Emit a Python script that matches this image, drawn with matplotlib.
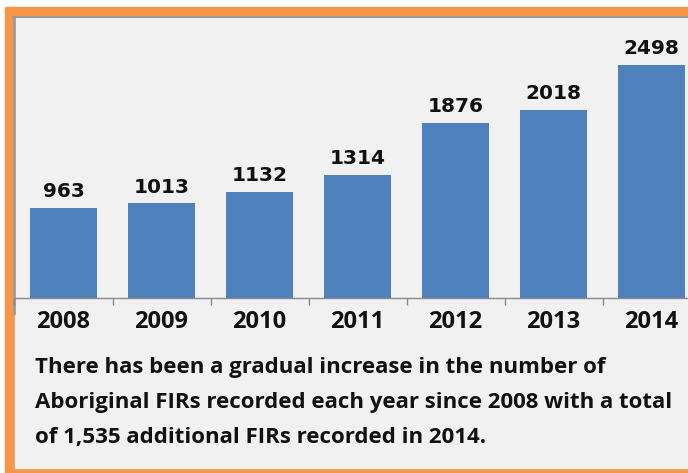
import matplotlib.pyplot as plt
from matplotlib.patches import Rectangle

years = ['2008', '2009', '2010', '2011', '2012', '2013', '2014']
firs = [963, 1013, 1132, 1314, 1876, 2018, 2498]
caption = ['There has been a gradual increase in the number of',
           'Aboriginal FIRs recorded each year since 2008 with a total',
           'of 1,535 additional FIRs recorded in 2014.']

W, H = 688, 473
fig = plt.figure(figsize=(W / 100, H / 100), dpi=100)
fig.patch.set_facecolor('white')

# background frame, drawn in pixel coords
bg = fig.add_axes([0, 0, 1, 1])
bg.set_xlim(0, W)
bg.set_ylim(H, 0)
bg.axis('off')
bg.add_patch(Rectangle((5, 7), 720, 480, color='#F79646'))
bg.add_patch(Rectangle((15, 17), 720, 450.5, color='#F1F1F1'))
bg.plot([13, W], [17.5, 17.5], color='#9a9a9a', lw=1.5)
bg.plot([14, 14], [17, 313], color='#9a9a9a', lw=2)

# chart axes: baseline at y=298px, categories 98px apart starting at x=14.5
ymax = 2600
scale = 0.0933
ax_h = ymax * scale
ax = fig.add_axes([14.5 / W, (H - 298) / H, 686 / W, ax_h / H])
ax.patch.set_alpha(0)
bars = ax.bar(range(len(years)), firs, width=0.68, color='#4F81BD')
ax.bar_label(bars, padding=5, fontsize=14.5, fontweight='bold',
             family='DejaVu Sans', color='#111111')
ax.set_xlim(-0.5, 6.5)
ax.set_ylim(0, ymax)
for s in ['top', 'right', 'left']:
    ax.spines[s].set_visible(False)
ax.spines['bottom'].set_color('#888888')
ax.spines['bottom'].set_linewidth(1)
ax.set_yticks([])
ax.set_xticks(range(len(years)))
ax.set_xticklabels(years, fontsize=17, fontweight='bold', family='Open Sans',
                   color='#111111')
ax.tick_params(axis='x', length=0, pad=9)
ax.set_xticks([i + 0.5 for i in range(-1, 7)], minor=True)
ax.tick_params(axis='x', which='minor', length=5, color='#888888', width=1)

for i, line in enumerate(caption):
    fig.text(35 / W, 1 - (373 + 35 * i) / H, line, fontsize=16,
             fontweight='bold', family='Open Sans', va='baseline',
             color='#111111')

fig.savefig('out.png', dpi=100, facecolor=fig.get_facecolor())
